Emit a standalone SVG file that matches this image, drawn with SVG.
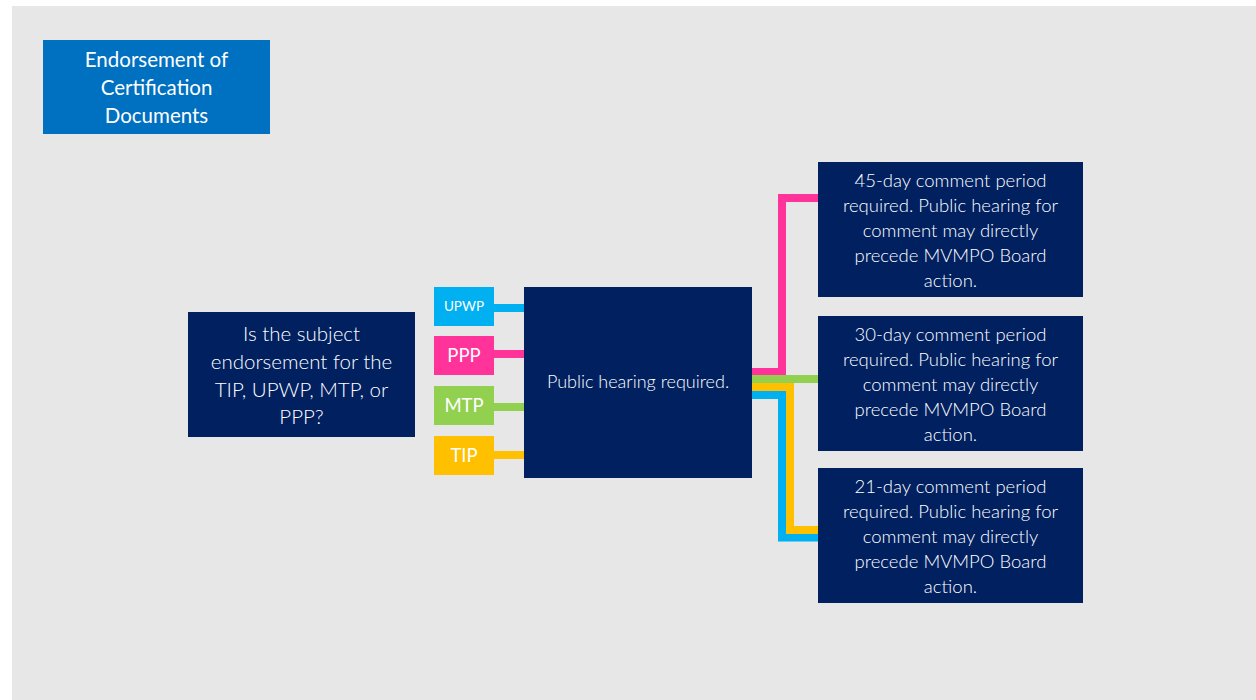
<svg xmlns="http://www.w3.org/2000/svg" width="1256" height="700" viewBox="0 0 1256 700">
<style>
.t{font-family:Lato,"Open Sans","Liberation Sans",sans-serif;font-weight:300;fill:#ffffff;text-anchor:middle}
.lb{font-weight:400}
.navy{fill:#002060}
.c{fill:none;stroke-width:8}
</style>
<rect x="0" y="0" width="1256" height="700" fill="#ffffff"/>
<rect x="12" y="6" width="1244" height="694" fill="#e7e7e7"/>
<g id="connectors">
<line class="c" x1="493" y1="308" x2="526" y2="308" stroke="#00b0f0"/>
<line class="c" x1="493" y1="354" x2="526" y2="354" stroke="#ff3399"/>
<line class="c" x1="493" y1="407" x2="526" y2="407" stroke="#92d050"/>
<line class="c" x1="493" y1="455" x2="526" y2="455" stroke="#ffc000"/>
<path class="c" d="M750 372 H782 V198 H818" stroke="#ff3399" stroke-width="7"/>
<path class="c" d="M750 379 H818" stroke="#92d050"/>
<path class="c" d="M750 395 H782 V537.5 H818" stroke="#00b0f0"/>
<path class="c" d="M750 387 H790 V530 H818" stroke="#ffc000"/>
</g>
<g id="endorsement">
<rect x="43" y="40" width="227" height="94" fill="#0070c0"/>
<text class="t lb" font-size="20.5" x="156.5"><tspan x="156.5" y="67">Endorsement of</tspan><tspan x="156.5" y="95">Certification</tspan><tspan x="156.5" y="123">Documents</tspan></text>
</g>
<g id="question">
<rect class="navy" x="188" y="312" width="227" height="125"/>
<text class="t" font-size="20.5" x="301.5"><tspan x="301.5" y="341">Is the subject</tspan><tspan x="301.5" y="369">endorsement for the</tspan><tspan x="301.5" y="397">TIP, UPWP, MTP, or</tspan><tspan x="301.5" y="424">PPP?</tspan></text>
</g>
<g id="upwp">
<rect x="434" y="287" width="60" height="39" fill="#00b0f0"/>
<text class="t lb" font-size="13.5" x="464" y="311">UPWP</text>
</g>
<g id="ppp">
<rect x="434" y="336" width="60" height="39" fill="#ff3399"/>
<text class="t lb" font-size="18.5" x="464" y="362">PPP</text>
</g>
<g id="mtp">
<rect x="434" y="386" width="60" height="39" fill="#92d050"/>
<text class="t lb" font-size="18.5" x="464" y="412">MTP</text>
</g>
<g id="tip">
<rect x="434" y="436" width="60" height="39" fill="#ffc000"/>
<text class="t lb" font-size="18.5" x="464" y="462">TIP</text>
</g>
<g id="hub">
<rect class="navy" x="524" y="287" width="228" height="191"/>
<text class="t" font-size="18" x="638" y="388">Public hearing required.</text>
</g>
<g id="days45">
<rect class="navy" x="818" y="162" width="265" height="135"/>
<text class="t" font-size="18.5" x="950.5"><tspan x="950.5" y="187">45-day comment period</tspan><tspan x="950.5" y="212">required. Public hearing for</tspan><tspan x="950.5" y="237">comment may directly</tspan><tspan x="950.5" y="262">precede MVMPO Board</tspan><tspan x="950.5" y="287">action.</tspan></text>
</g>
<g id="days30">
<rect class="navy" x="818" y="316" width="265" height="135"/>
<text class="t" font-size="18.5" x="950.5"><tspan x="950.5" y="341">30-day comment period</tspan><tspan x="950.5" y="366">required. Public hearing for</tspan><tspan x="950.5" y="391">comment may directly</tspan><tspan x="950.5" y="416">precede MVMPO Board</tspan><tspan x="950.5" y="441">action.</tspan></text>
</g>
<g id="days21">
<rect class="navy" x="818" y="468" width="265" height="135"/>
<text class="t" font-size="18.5" x="950.5"><tspan x="950.5" y="493">21-day comment period</tspan><tspan x="950.5" y="518">required. Public hearing for</tspan><tspan x="950.5" y="543">comment may directly</tspan><tspan x="950.5" y="568">precede MVMPO Board</tspan><tspan x="950.5" y="593">action.</tspan></text>
</g>
</svg>
